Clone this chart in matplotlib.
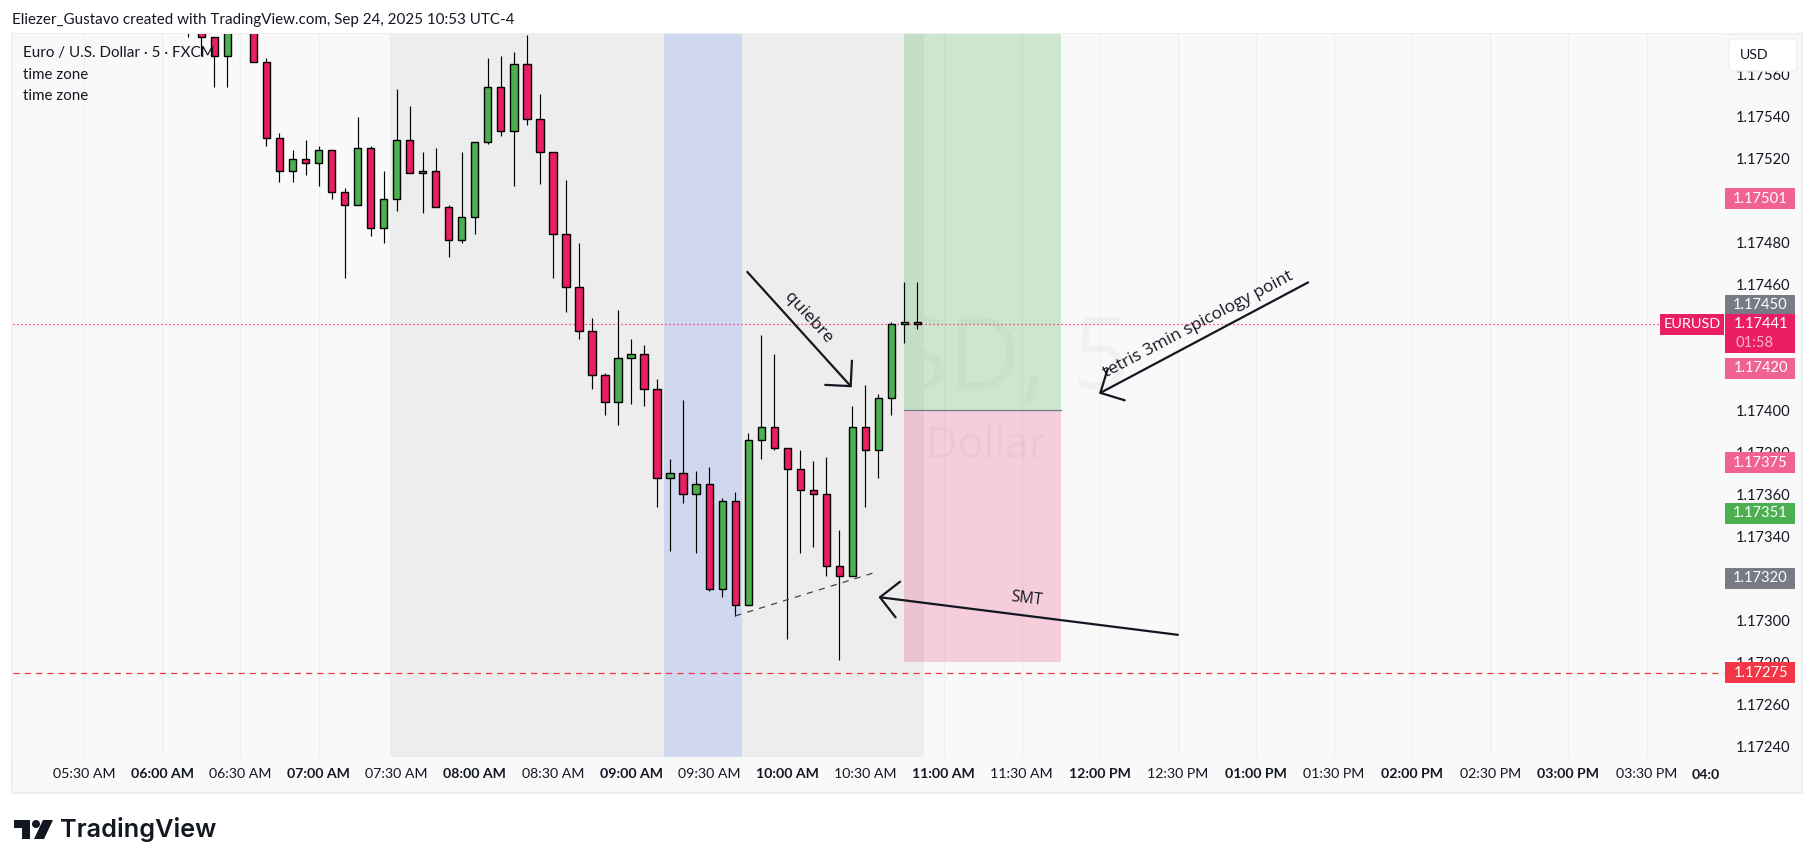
import matplotlib
matplotlib.use("Agg")
import numpy as np
import matplotlib.pyplot as plt
from matplotlib.patches import Rectangle, FancyBboxPatch, Polygon, Circle

plt.rcParams['font.family'] = ['Lato', 'DejaVu Sans']

# 5 minute bars, bar 0 is the 05:30 AM one
bar_start = 8
opens = [1.17586, 1.17584, 1.17578, 1.17569, 1.17585, 1.17590, 1.17566, 1.17530, 1.17514, 1.17520,
         1.17518, 1.17524, 1.17504, 1.17498, 1.17525, 1.17487, 1.17501, 1.17529, 1.17513, 1.17514,
         1.17497, 1.17481, 1.17492, 1.17528, 1.17554, 1.17533, 1.17565, 1.17539, 1.17523, 1.17484,
         1.17459, 1.17438, 1.17417, 1.17404, 1.17425, 1.17427, 1.17410, 1.17368, 1.17370, 1.17360,
         1.17365, 1.17315, 1.17357, 1.17307, 1.17386, 1.17392, 1.17382, 1.17372, 1.17362, 1.17360,
         1.17326, 1.17321, 1.17392, 1.17381, 1.17406, 1.17441, 1.17442]
highs = [1.17590, 1.17590, 1.17578, 1.17590, 1.17596, 1.17595, 1.17568, 1.17532, 1.17524, 1.17529,
         1.17526, 1.17524, 1.17506, 1.17540, 1.17526, 1.17514, 1.17553, 1.17545, 1.17523, 1.17525,
         1.17498, 1.17523, 1.17528, 1.17568, 1.17569, 1.17571, 1.17579, 1.17551, 1.17523, 1.17510,
         1.17480, 1.17444, 1.17418, 1.17448, 1.17434, 1.17431, 1.17415, 1.17377, 1.17405, 1.17371,
         1.17373, 1.17358, 1.17361, 1.17389, 1.17436, 1.17427, 1.17382, 1.17381, 1.17376, 1.17378,
         1.17343, 1.17402, 1.17412, 1.17408, 1.17442, 1.17461, 1.17461]
lows = [1.17578, 1.17569, 1.17554, 1.17554, 1.17582, 1.17566, 1.17526, 1.17509, 1.17509, 1.17512,
        1.17507, 1.17501, 1.17463, 1.17498, 1.17483, 1.17480, 1.17495, 1.17513, 1.17494, 1.17497,
        1.17473, 1.17480, 1.17484, 1.17527, 1.17531, 1.17507, 1.17536, 1.17508, 1.17463, 1.17447,
        1.17434, 1.17410, 1.17398, 1.17393, 1.17403, 1.17402, 1.17354, 1.17333, 1.17356, 1.17332,
        1.17314, 1.17311, 1.17302, 1.17307, 1.17377, 1.17381, 1.17291, 1.17332, 1.17335, 1.17321,
        1.17281, 1.17321, 1.17354, 1.17368, 1.17398, 1.17432, 1.17439]
closes = [1.17584, 1.17578, 1.17569, 1.17585, 1.17592, 1.17566, 1.17530, 1.17514, 1.17520, 1.17518,
          1.17524, 1.17504, 1.17498, 1.17525, 1.17487, 1.17501, 1.17529, 1.17513, 1.17514, 1.17497,
          1.17481, 1.17492, 1.17528, 1.17554, 1.17533, 1.17565, 1.17539, 1.17523, 1.17484, 1.17459,
          1.17438, 1.17417, 1.17404, 1.17425, 1.17427, 1.17410, 1.17368, 1.17370, 1.17360, 1.17365,
          1.17315, 1.17357, 1.17307, 1.17386, 1.17392, 1.17382, 1.17372, 1.17362, 1.17360, 1.17326,
          1.17321, 1.17392, 1.17381, 1.17406, 1.17441, 1.17442, 1.17441]

time_labels = ["05:30 AM", "06:00 AM", "06:30 AM", "07:00 AM", "07:30 AM", "08:00 AM", "08:30 AM",
               "09:00 AM", "09:30 AM", "10:00 AM", "10:30 AM", "11:00 AM", "11:30 AM", "12:00 PM",
               "12:30 PM", "01:00 PM", "01:30 PM", "02:00 PM", "02:30 PM", "03:00 PM", "03:30 PM"]
price_ticks = [1.17240, 1.17260, 1.17280, 1.17300, 1.17320, 1.17340, 1.17360, 1.17380, 1.17400,
               1.17420, 1.17440, 1.17460, 1.17480, 1.17500, 1.17520, 1.17540, 1.17560]

last_price = 1.17441
stop_line = 1.17275
# tags on the price scale
price_tags = [(1.17501, "#F06292"), (1.17450, "#787B86"), (1.17420, "#F06292"),
              (1.17375, "#F06292"), (1.17351, "#4CAF50"), (1.17320, "#787B86"),
              (1.17275, "#F23645")]

RED = "#E91E63"
GREEN = "#4CAF50"
INK = "#131722"
W, H = 1814, 868
LEFT, RIGHT, TOP, BOTTOM = 13, 1724, 34, 757
BAR_PX = 13.02
BAR0_PX = 84.2


def bar_x(px):
    return (px - BAR0_PX) / BAR_PX


def price_y(px):
    return 1.1754 + (116.7 - px) / 209770


def ax_x(px):
    return (px - LEFT) / (RIGHT - LEFT)


def fig_box(x0, y0, x1, y1):
    return [x0 / W, 1 - y1 / H, (x1 - x0) / W, (y1 - y0) / H]


fig = plt.figure(figsize=(W / 100, H / 100), dpi=100, facecolor="white")
fig.add_artist(Rectangle((12 / W, 1 - 793 / H), 1790 / W, 759 / H, transform=fig.transFigure,
                         facecolor="#F9F9F9", edgecolor="#F0F0F0", linewidth=1.5, zorder=-1))
ax = fig.add_axes(fig_box(LEFT, TOP, RIGHT, BOTTOM), facecolor="#F9F9F9")
ax.set_xlim(bar_x(LEFT), bar_x(RIGHT))
ax.set_ylim(price_y(BOTTOM), price_y(TOP))
for s in ax.spines.values():
    s.set_visible(False)
ax.set_axisbelow(True)

# grid and scales
ax.set_xticks(np.arange(len(time_labels)) * 6)
ax.set_xticklabels(time_labels)
for i, lab in enumerate(ax.get_xticklabels()):
    lab.set_fontweight("bold" if i % 2 == 1 else "normal")
ax.set_yticks(price_ticks)
ax.set_yticklabels([f"{p:.5f}" for p in price_ticks])
ax.yaxis.tick_right()
ax.tick_params(axis="x", length=0, pad=8, labelsize=10.2, labelcolor=INK)
ax.tick_params(axis="y", length=0, pad=8.5, labelsize=10.6, labelcolor=INK)
ax.grid(axis="x", color="#F0F0F0", linewidth=1)

# watermark sits under the session boxes
ax.text(bar_x(880), price_y(363), "EURUSD, 5", ha="center", va="center", fontsize=72,
        family="Open Sans", color="black", alpha=0.03, zorder=0.6)
ax.text(bar_x(876), price_y(447), "Euro / U.S. Dollar", ha="center", va="center", fontsize=31,
        family="Open Sans", color="black", alpha=0.03, zorder=0.6)

# sessions
ax.axvspan(23.5, 64.5, facecolor="#EDEDED", edgecolor="none", zorder=1)
ax.axvspan(44.5, 50.5, facecolor="#D0D8F0", edgecolor="none", zorder=1.1)

# long position box
entry, target, stop = 1.17400, 1.17600, 1.17280
ax.add_patch(Rectangle((63, entry), 12, target - entry, facecolor=GREEN, alpha=0.25, edgecolor="none", zorder=1.5))
ax.add_patch(Rectangle((63, stop), 12, entry - stop, facecolor=RED, alpha=0.2, edgecolor="none", zorder=1.5))
ax.plot([63, 75], [entry, entry], color="#787B86", lw=0.9, zorder=1.6)

# price lines
ax.plot([bar_x(LEFT), bar_x(1660)], [last_price, last_price], color=RED, lw=0.9,
        linestyle=(0, (1, 2.2)), zorder=1.8)
ax.plot([bar_x(LEFT), bar_x(RIGHT)], [stop_line, stop_line], color="#F23645", lw=0.9,
        linestyle=(0, (5, 4)), zorder=1.8)

# candles
x = np.arange(len(opens)) + bar_start
o, h, l, c = map(np.array, (opens, highs, lows, closes))
up = c >= o
ax.vlines(x, l, h, color="black", linewidth=0.85, zorder=2)
ax.bar(x, np.abs(c - o), bottom=np.minimum(o, c), width=0.56, color=np.where(up, GREEN, RED),
       edgecolor="black", linewidth=1.0, zorder=3)

# drawings
arrow = "->,head_length=0.72,head_width=0.72"
for start, tip in [((50.93, 1.17466), (58.95, 1.17411)),
                   ((94.0, 1.17461), (77.94, 1.17408)),
                   ((84.0, 1.17293), (61.0, 1.17311))]:
    ax.annotate("", xy=tip, xytext=start, zorder=4,
                arrowprops=dict(arrowstyle=arrow, color=INK, lw=1.6, shrinkA=0, shrinkB=0,
                                mutation_scale=18))
ax.plot([50, 60.87], [1.17302, 1.17323], color="#444444", lw=0.9, linestyle=(0, (5, 5)), zorder=4)
ax.text(55.6, 1.17444, "quiebre", rotation=-47.5, rotation_mode="anchor", ha="center", va="center",
        fontsize=12.5, family="Open Sans", color=INK, zorder=5)
ax.text(85.6, 1.17441, "tetris 3min spicology point", rotation=27.7, rotation_mode="anchor",
        ha="center", va="center", fontsize=12.3, family="Open Sans", color=INK, zorder=5)
ax.text(72.4, 1.17310, "SMT", rotation=-7, rotation_mode="anchor", ha="center", va="center",
        fontsize=11.5, family="Open Sans", color=INK, zorder=5)

# price tags
TAG_H = 21 / 209770
tag_x0 = ax_x(1725)
tag_w = ax_x(1795) - tag_x0
ytrans = ax.get_yaxis_transform()
for price, col in price_tags:
    ax.add_patch(Rectangle((tag_x0, price - TAG_H / 2), tag_w, TAG_H, transform=ytrans, facecolor=col,
                           edgecolor="none", clip_on=False, zorder=6))
    ax.text(ax_x(1788), price, f"{price:.5f}", transform=ytrans, ha="right", va="center",
            fontsize=10.6, color="white", zorder=7, clip_on=False)

# last price with countdown, covers the gray tag above it
ax.add_patch(Rectangle((tag_x0, last_price - 28.4 / 209770), tag_w, 39 / 209770, transform=ytrans,
                       facecolor=RED, edgecolor="none", clip_on=False, zorder=6.5))
ax.text(ax_x(1788), last_price, f"{last_price:.5f}", transform=ytrans, ha="right", va="center",
        fontsize=10.6, color="white", zorder=7, clip_on=False)
ax.text(ax_x(1736), last_price - 18.5 / 209770, "01:58", transform=ytrans, ha="left", va="center",
        fontsize=10.6, color="#F9B4CC", zorder=7, clip_on=False)
ax.add_patch(Rectangle((ax_x(1660), last_price - TAG_H / 2), ax_x(1724) - ax_x(1660), TAG_H,
                       transform=ytrans, facecolor=RED, edgecolor="none", clip_on=False, zorder=6))
ax.text(ax_x(1692), last_price, "EURUSD", transform=ytrans, ha="center", va="center", fontsize=10.4,
        color="white", zorder=7, clip_on=False)

# figure level texts
fig.text(12 / W, 1 - 20 / H, "Eliezer_Gustavo created with TradingView.com, Sep 24, 2025 10:53 UTC-4",
         ha="left", va="center", fontsize=10.9, color=INK)
for label, ypx in [("Euro / U.S. Dollar · 5 · FXCM", 53), ("time zone", 75), ("time zone", 96)]:
    fig.text(23 / W, 1 - ypx / H, label, ha="left", va="center", fontsize=10.9, color=INK, zorder=8)
fig.text(1692 / W, 1 - 775 / H, "04:0", ha="left", va="center", fontsize=10.2, fontweight="bold", color=INK)

# USD button
fig.add_artist(FancyBboxPatch((1732, 868 - 68), 62, 26, boxstyle="round,pad=3,rounding_size=5",
                              transform=None, facecolor="white", edgecolor="#EFEFEF", linewidth=1, zorder=9))
fig.text(1740 / W, 1 - 55 / H, "USD", ha="left", va="center", fontsize=10.2, color=INK, zorder=10)

# logo
logo = [Polygon([(14, 48), (30, 48), (30, 29), (22, 29), (22, 40), (14, 40)], closed=True),
        Circle((36, 44), 4),
        Polygon([(43, 48), (53, 48), (44, 29), (34, 29)], closed=True)]
for part in logo:
    part.set_transform(None)
    part.set_facecolor(INK)
    part.set_edgecolor("none")
    fig.add_artist(part)
fig.text(60 / W, 1 - 830 / H, "TradingView", ha="left", va="center", fontsize=18.2, fontweight="semibold",
         family="Inter", color=INK)

fig.savefig("out.png", dpi=100)
